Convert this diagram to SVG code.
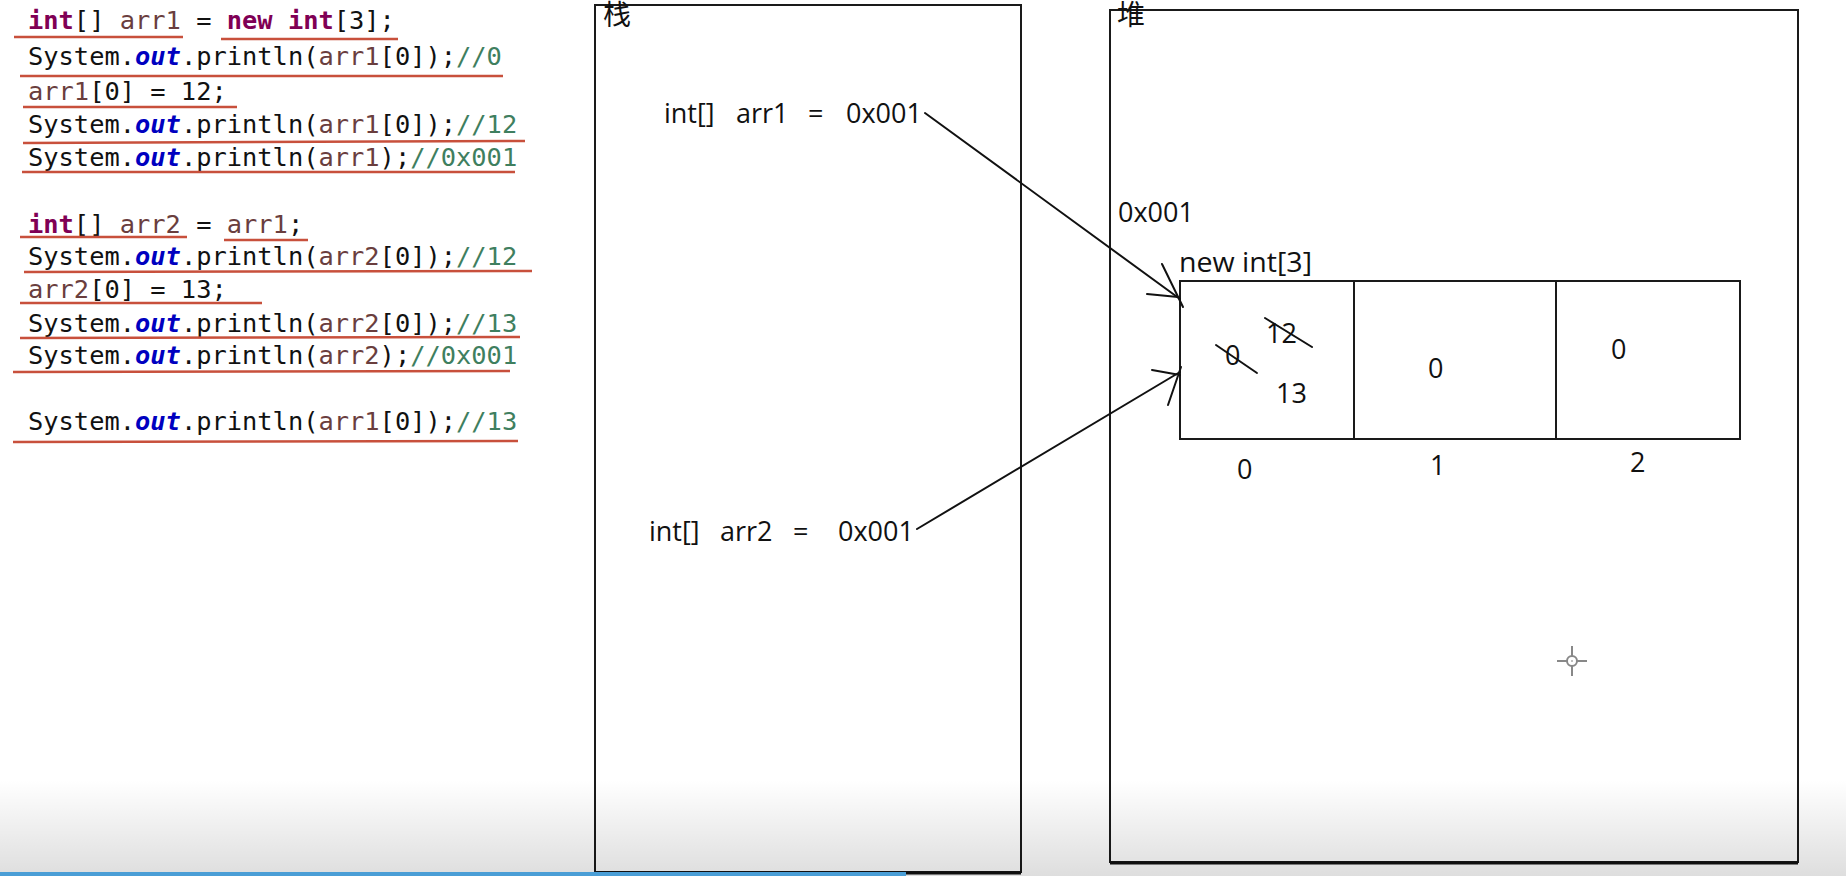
<svg xmlns="http://www.w3.org/2000/svg" width="1846" height="876" viewBox="0 0 1846 876">
<defs>
<linearGradient id="shade" x1="0" y1="0" x2="0" y2="1">
<stop offset="0" stop-color="#000" stop-opacity="0"/>
<stop offset="1" stop-color="#000" stop-opacity="0.13"/>
</linearGradient>
</defs>
<style>
.code{font-family:"DejaVu Sans Mono","Liberation Mono",monospace;font-size:25.4px;fill:#111}
.kw{fill:#7f0055;font-weight:bold}
.v{fill:#6a3e3e}
.out{fill:#0000c0;font-weight:bold;font-style:italic}
.c{fill:#3f7f5f}
.ul{stroke:#c8503c;stroke-width:2.5;fill:none}
.lbl{font-family:"Open Sans","Noto Sans","Noto Sans CJK SC",sans-serif;font-size:27px;fill:#111}
.cjk{font-family:"Noto Sans CJK SC","Noto Sans CJK JP",sans-serif;font-size:28px;fill:#111}
.box{fill:none;stroke:#1a1a1a;stroke-width:2}
.ink{fill:none;stroke:#111;stroke-width:2;stroke-linecap:round}
</style>
<rect x="0" y="0" width="1846" height="876" fill="#fff"/>

<g id="code">
<text class="code" x="28" y="29"><tspan class="kw">int</tspan>[] <tspan class="v">arr1</tspan> = <tspan class="kw">new</tspan> <tspan class="kw">int</tspan>[3];</text>
<text class="code" x="28" y="65">System.<tspan class="out">out</tspan>.println(<tspan class="v">arr1</tspan>[0]);<tspan class="c">//0</tspan></text>
<text class="code" x="28" y="100"><tspan class="v">arr1</tspan>[0] = 12;</text>
<text class="code" x="28" y="133">System.<tspan class="out">out</tspan>.println(<tspan class="v">arr1</tspan>[0]);<tspan class="c">//12</tspan></text>
<text class="code" x="28" y="166">System.<tspan class="out">out</tspan>.println(<tspan class="v">arr1</tspan>);<tspan class="c">//0x001</tspan></text>
<text class="code" x="28" y="233"><tspan class="kw">int</tspan>[] <tspan class="v">arr2</tspan> = <tspan class="v">arr1</tspan>;</text>
<text class="code" x="28" y="265">System.<tspan class="out">out</tspan>.println(<tspan class="v">arr2</tspan>[0]);<tspan class="c">//12</tspan></text>
<text class="code" x="28" y="298"><tspan class="v">arr2</tspan>[0] = 13;</text>
<text class="code" x="28" y="332">System.<tspan class="out">out</tspan>.println(<tspan class="v">arr2</tspan>[0]);<tspan class="c">//13</tspan></text>
<text class="code" x="28" y="364">System.<tspan class="out">out</tspan>.println(<tspan class="v">arr2</tspan>);<tspan class="c">//0x001</tspan></text>
<text class="code" x="28" y="430">System.<tspan class="out">out</tspan>.println(<tspan class="v">arr1</tspan>[0]);<tspan class="c">//13</tspan></text>
</g>

<g id="underlines">
<path class="ul" d="M14 37H183"/>
<path class="ul" d="M221 39H398"/>
<path class="ul" d="M20 76H503"/>
<path class="ul" d="M23 107H237"/>
<path class="ul" d="M23 143L525 141"/>
<path class="ul" d="M22 172H515"/>
<path class="ul" d="M20 237H187"/>
<path class="ul" d="M224 240H308"/>
<path class="ul" d="M24 272L532 271"/>
<path class="ul" d="M20 303H262"/>
<path class="ul" d="M20 338L520 337"/>
<path class="ul" d="M13 372L510 371"/>
<path class="ul" d="M13 442L518 441"/>
</g>

<g id="stack">
<rect class="box" x="595" y="5" width="426" height="867"/>
<path d="M595 873H1021" stroke="#111" stroke-width="3"/>
<text class="cjk" x="603" y="25">栈</text>
</g>

<g id="arr1-var">
<text class="lbl" x="664" y="123">int[]</text>
<text class="lbl" x="736" y="123">arr1</text>
<text class="lbl" x="808" y="123">=</text>
<text class="lbl" x="846" y="123">0x001</text>
</g>

<g id="arr2-var">
<text class="lbl" x="649" y="541">int[]</text>
<text class="lbl" x="720" y="541">arr2</text>
<text class="lbl" x="793" y="541">=</text>
<text class="lbl" x="838" y="541">0x001</text>
</g>

<g id="heap">
<rect class="box" x="1110" y="10" width="688" height="852"/>
<path d="M1110 863H1798" stroke="#111" stroke-width="3"/>
<text class="cjk" x="1117" y="25">堆</text>
</g>

<g id="array">
<text class="lbl" x="1118" y="222">0x001</text>
<text class="lbl" x="1179" y="272" textLength="133" lengthAdjust="spacingAndGlyphs">new int[3]</text>
<rect class="box" x="1180" y="281" width="560" height="158"/>
<path class="box" d="M1354 281V439M1556 281V439"/>
<text class="lbl" x="1225" y="365">0</text>
<path class="ink" d="M1216 345L1257 373"/>
<text class="lbl" x="1266" y="343">12</text>
<path class="ink" d="M1265 318L1312 347"/>
<text class="lbl" x="1276" y="403">13</text>
<text class="lbl" x="1428" y="378">0</text>
<text class="lbl" x="1611" y="359">0</text>
<text class="lbl" x="1237" y="479">0</text>
<text class="lbl" x="1430" y="475">1</text>
<text class="lbl" x="1630" y="472">2</text>
</g>

<g id="connectors">
<path class="ink" d="M925 113L1180 299"/>
<path class="ink" d="M1147 294L1178 297M1162 264L1183 307"/>
<path class="ink" d="M917 529L1180 372"/>
<path class="ink" d="M1152 370L1180 375M1168 405L1181 367"/>
</g>

<g id="cursor" stroke="#888" stroke-width="2" fill="none">
<circle cx="1572" cy="661" r="5"/>
<path d="M1557 661H1567M1577 661H1587M1572 646V656M1572 666V676"/>
<circle cx="1572" cy="661" r="1" fill="#aaa" stroke="none"/>
</g>

<rect x="0" y="780" width="1846" height="96" fill="url(#shade)"/>
<rect x="0" y="872" width="906" height="4" fill="#4a9ed6"/>
</svg>
